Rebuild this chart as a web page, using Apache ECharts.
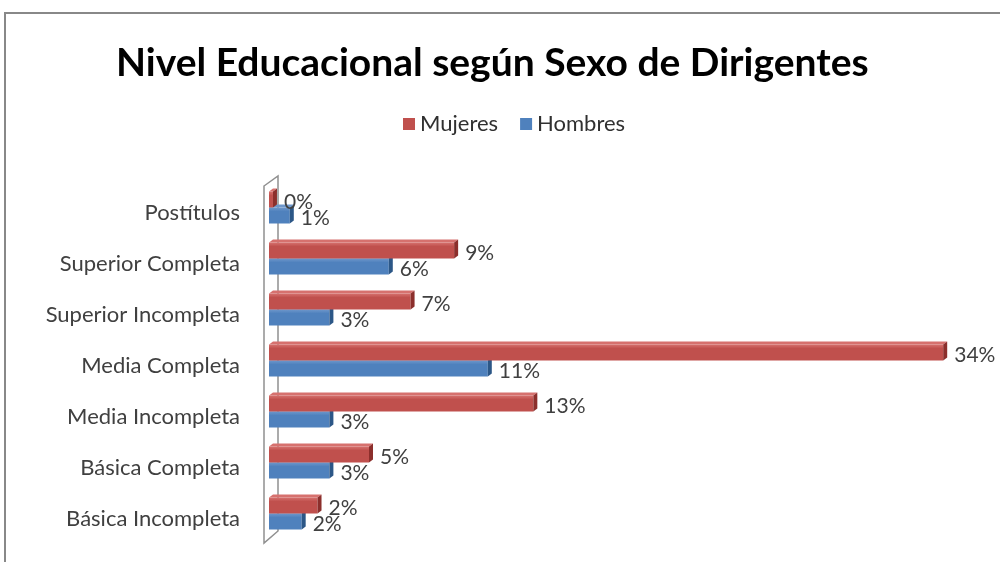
<!DOCTYPE html>
<html>
<head>
<meta charset="utf-8">
<script src="https://cdn.jsdelivr.net/npm/echarts@6/dist/echarts.min.js"></script>
<style>
  html, body { margin: 0; padding: 0; background: #fff; }
  #chart { width: 1000px; height: 562px; }
</style>
</head>
<body>
<div id="chart"></div>
<script>
// categorias, de abajo hacia arriba
const categorias = [
  'Básica Incompleta',
  'Básica Completa',
  'Media Incompleta',
  'Media Completa',
  'Superior Incompleta',
  'Superior Completa',
  'Postítulos'
];
// porcentajes
const mujeres = [2.4, 5.0, 13.3, 34.0, 7.1, 9.3, 0.15];
const hombres = [1.6, 3.0, 3.0, 11.0, 3.0, 6.0, 1.0];

const FONT = 'Lato, "Liberation Sans", sans-serif';
const GRID = { left: 270, top: 187, width: 693, height: 357 };

// barra con efecto 3D (cara frontal, cara superior y tapa final)
function barra3d(color, topColor, capColor, desde, hasta) {
  return function (params, api) {
    const cat = api.value(0);
    const val = api.value(1);
    const base = api.coord([0, cat]);
    const fin = api.coord([val, cat]);
    const x0 = base[0] - 1;
    const x1 = fin[0];
    const y0 = base[1] + desde;
    const y1 = base[1] + hasta;
    const d = 4;
    return {
      type: 'group',
      children: [
        {
          type: 'polygon',
          shape: { points: [[x0, y0], [x0 + d, y0 - 3], [x1 + d, y0 - 3], [x1, y0]] },
          style: { fill: topColor }
        },
        {
          type: 'rect',
          shape: { x: x0, y: y0, width: Math.max(x1 - x0, 0.5), height: y1 - y0 },
          style: {
            fill: new echarts.graphic.LinearGradient(0, 0, 0, 1, [
              { offset: 0, color: topColor },
              { offset: 0.25, color: color },
              { offset: 1, color: color }
            ])
          }
        },
        {
          type: 'polygon',
          shape: { points: [[x1, y0], [x1 + d, y0 - 3], [x1 + d, y1 - 3], [x1, y1]] },
          style: { fill: capColor }
        },
        {
          type: 'text',
          style: {
            text: Math.round(val) + '%',
            x: x1 + d + 7,
            y: (y0 + y1) / 2 + 3,
            verticalAlign: 'middle',
            align: 'left',
            font: '21px ' + FONT,
            fill: '#404040'
          }
        }
      ]
    };
  };
}

const chart = echarts.init(document.getElementById('chart'));

const gx = GRID.left, gt = GRID.top, gb = GRID.top + GRID.height;

const option = {
  backgroundColor: '#fff',
  animation: false,
  title: {
    text: 'Nivel Educacional según Sexo de Dirigentes',
    left: 111,
    top: 39,
    textStyle: { fontFamily: FONT, fontSize: 39, fontWeight: 'bold', color: '#000' }
  },
  legend: {
    data: ['Mujeres', 'Hombres'],
    left: 398,
    top: 108,
    itemWidth: 12,
    itemHeight: 12,
    itemGap: 22,
    icon: 'rect',
    textStyle: { fontFamily: FONT, fontSize: 22, color: '#303030' }
  },
  graphic: [
    {
      type: 'polyline',
      shape: { points: [[5, 600], [5, 13], [1000, 13]] },
      style: { stroke: '#888', lineWidth: 2, fill: null },
      silent: true
    },
    {
      // pared del eje
      type: 'polygon',
      shape: { points: [[gx - 6, gt - 1], [gx + 8, gt - 11], [gx + 8, gb - 13], [gx - 6, gb - 1]] },
      style: { stroke: '#909090', lineWidth: 1.5, fill: '#fff' },
      z: -1,
      silent: true
    }
  ],
  grid: GRID,
  xAxis: {
    type: 'value',
    min: 0,
    max: 35,
    show: false,
    splitLine: { show: false }
  },
  yAxis: {
    type: 'category',
    data: categorias,
    axisLine: { show: false },
    axisTick: { show: false },
    axisLabel: { margin: 30, fontFamily: FONT, fontSize: 22, color: '#404040' }
  },
  series: [
    {
      name: 'Mujeres',
      type: 'custom',
      itemStyle: { color: '#C0504D' },
      encode: { x: 1, y: 0 },
      renderItem: barra3d('#C0504D', '#D6716E', '#8C2F2C', -21, -5),
      data: mujeres.map((v, i) => [i, v]),
      z: 3
    },
    {
      name: 'Hombres',
      type: 'custom',
      itemStyle: { color: '#4F81BD' },
      encode: { x: 1, y: 0 },
      renderItem: barra3d('#4F81BD', '#6E97CB', '#2C5787', -5, 11),
      data: hombres.map((v, i) => [i, v]),
      z: 2
    }
  ]
};

chart.setOption(option);
</script>
</body>
</html>
